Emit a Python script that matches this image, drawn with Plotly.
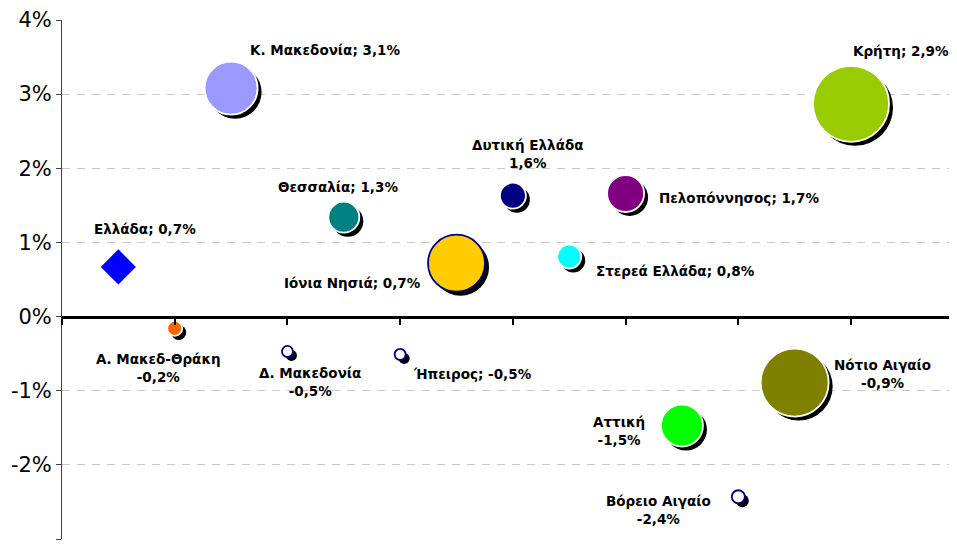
import plotly.graph_objects as go

# regions, growth (%), bubble weight
regions = ["Ελλάδα", "Α. Μακεδ-Θράκη", "Κ. Μακεδονία", "Δ. Μακεδονία", "Θεσσαλία",
           "Ήπειρος", "Ιόνια Νησιά", "Δυτική Ελλάδα", "Στερεά Ελλάδα", "Πελοπόννησος",
           "Αττική", "Βόρειο Αιγαίο", "Νότιο Αιγαίο", "Κρήτη"]
xpos = [0.5, 1, 1.5, 2, 2.5, 3, 3.5, 4, 4.5, 5, 5.5, 6, 6.5, 7]
growth = [0.67, -0.16, 3.08, -0.47, 1.34, -0.51, 0.72, 1.63, 0.81, 1.66, -1.47, -2.43, -0.89, 2.87]
weight = [27, 15, 53, 11, 31, 11, 57, 26, 24, 37, 42, 13, 68, 76]

ytick_vals = [-3, -2, -1, 0, 1, 2, 3, 4]
ytick_text = ["-3%", "-2%", "-1%", "0%", "1%", "2%", "3%", "4%"]

colors = ["#0000FF", "#FF6600", "#9999FF", "#FFFFFF", "#008080", "#FFFFFF", "#FFCC00",
          "#000080", "#00FFFF", "#800080", "#00FF00", "#FFFFFF", "#808000", "#99CC00"]
edges = ["#0000FF", "white", "white", "#000080", "white", "#000080", "#000080",
         "white", "white", "white", "white", "#000080", "white", "white"]
# label style: (two lines?, xshift, yshift, xanchor)
label_style = [(False, 27, 38, "center"), (True, -16, -40, "center"),
               (False, 17, 38, "left"), (True, 23, -31, "center"),
               (False, -6, 30, "center"), (False, 11, -20, "left"),
               (False, -34, -20, "right"), (True, 15, 42, "center"),
               (False, 25, -14, "left"), (False, 31, -5, "left"),
               (True, -63, -5, "center"), (True, -80, -13, "center"),
               (True, 88, 9, "center"), (False, 0, 53, "left")]

# page body adds an 8px offset, so the figure is 8px smaller than the window
W, H = 949, 540
ml, mr, mt, mb = 54, 0, 12, 9
xr = [0, 7.94]
yr = [-3, 4]
dx = 4 * (xr[1] - xr[0]) / (W - ml - mr)
dy = 4 * (yr[1] - yr[0]) / (H - mt - mb)

fig = go.Figure()

# drop shadows for the bubbles
fig.add_trace(go.Scatter(
    x=[x + dx for x in xpos[1:]], y=[y - dy for y in growth[1:]], mode="markers",
    marker=dict(size=weight[1:], color="black", opacity=1, line=dict(width=0)),
    hoverinfo="skip", showlegend=False))

fig.add_trace(go.Scatter(
    x=xpos[1:], y=growth[1:], mode="markers",
    marker=dict(size=weight[1:], color=colors[1:], opacity=1,
                line=dict(color=edges[1:], width=1.8)),
    hoverinfo="skip", showlegend=False))

# Ελλάδα as diamond
fig.add_trace(go.Scatter(
    x=xpos[:1], y=growth[:1], mode="markers",
    marker=dict(symbol="diamond", size=weight[0], color=colors[0], opacity=1),
    hoverinfo="skip", showlegend=False))

for name, x, y, st in zip(regions, xpos, growth, label_style):
    val = f"{y:.1f}".replace(".", ",") + "%"
    txt = f"{name}<br>{val}" if st[0] else f"{name}; {val}"
    fig.add_annotation(x=x, y=y, text=txt, showarrow=False,
                       xshift=st[1], yshift=st[2], xanchor=st[3], align="center",
                       font=dict(family="DejaVu Sans", size=13.5, color="black", weight="bold"))

fig.update_layout(
    width=W, height=H, margin=dict(l=ml, r=mr, t=mt, b=mb),
    plot_bgcolor="white", paper_bgcolor="white",
    xaxis=dict(range=xr, anchor="free", position=(0 - yr[0]) / (yr[1] - yr[0]),
               showline=True, linecolor="black", linewidth=3,
               ticks="outside", ticklen=6, tickwidth=2, tickcolor="black",
               tick0=0, dtick=1, showticklabels=False, showgrid=False, zeroline=False,
               automargin=False),
    yaxis=dict(range=yr, tickvals=ytick_vals, ticktext=ytick_text,
               showline=True, linecolor="#404040", linewidth=1,
               ticks="outside", ticklen=5, tickcolor="#404040",
               showgrid=True, gridcolor="#C8C8C8", griddash="8px,7px", gridwidth=1,
               zeroline=False, automargin=False,
               tickfont=dict(family="DejaVu Sans", size=21, color="black")),
)

fig.write_html("out.html")
